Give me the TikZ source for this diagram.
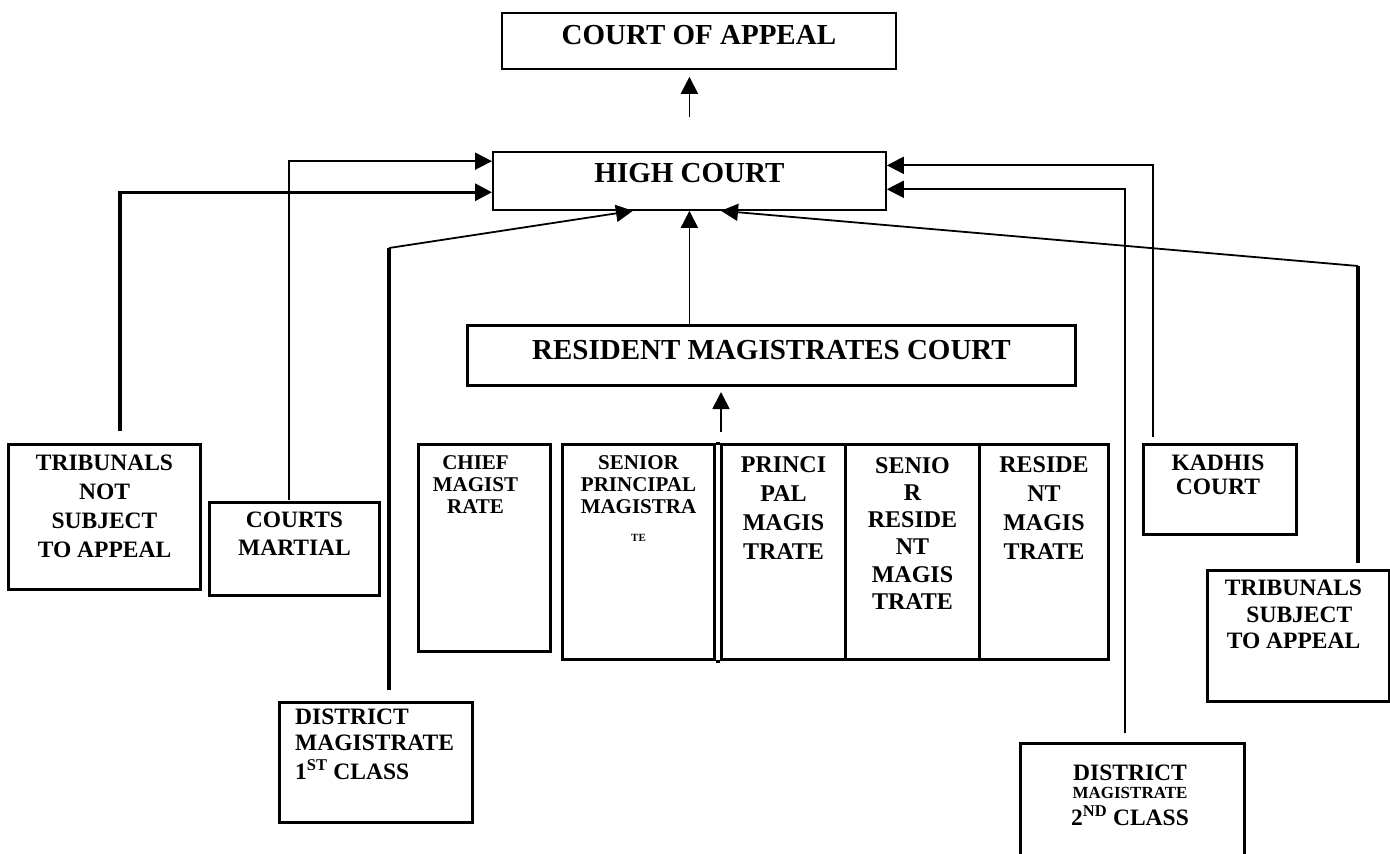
\documentclass[tikz,border=0pt]{standalone}
\usepackage{fontspec}
\setmainfont{Liberation Serif}
\usetikzlibrary{arrows.meta,positioning,calc}

\tikzset{
  box/.style={draw, line width=3pt, inner sep=0pt, anchor=north west},
  topbox/.style={box, line width=1.8pt},
  headtxt/.style={font=\bfseries\fontsize{29}{34}\selectfont, inner sep=0pt},
  txt/.style={font=\bfseries\fontsize{23.5}{29}\selectfont, align=center, inner sep=0pt},
  coltxt/.style={font=\bfseries\fontsize{24}{29}\selectfont, align=center, inner sep=0pt},
  smalltxt/.style={font=\bfseries\fontsize{21}{22}\selectfont, align=center, inner sep=0pt},
  thinline/.style={line width=1.8pt},
  thickline/.style={line width=3.2pt},
  headarrow/.style={-{Triangle[length=17pt,width=17pt]}},
}

\begin{document}
\begin{tikzpicture}[x=1pt,y=-1pt]
  \useasboundingbox (0,0) rectangle (1390,854);

  % top courts
  \node[topbox, minimum width=394pt, minimum height=56pt] (coa) at (501,12) {};
  \node[headtxt, below=13pt of coa.north] (coa-t) {COURT OF APPEAL};
  \node[topbox, minimum width=393pt, minimum height=58pt] (hc) at (492,151) {};
  \node[headtxt, below=12pt of hc.north] (hc-t) {HIGH COURT};
  \node[box, minimum width=608pt, minimum height=60pt] (rmc) at (466,324) {};
  \node[headtxt, below=16pt of rmc.north] (rmc-t) {RESIDENT MAGISTRATES COURT};

  % lower courts
  \node[box, minimum width=192pt, minimum height=145pt] (tnsa) at (7,443) {};
  \node[txt, below=12pt of tnsa.north] (tnsa-t) {TRIBUNALS\\NOT\\SUBJECT\\TO APPEAL};
  \node[box, minimum width=170pt, minimum height=93pt] (cm) at (208,501) {};
  \node[txt, font=\bfseries\fontsize{23.5}{28}\selectfont, below=11pt of cm.north] (cm-t) {COURTS\\MARTIAL};
  \node[box, minimum width=193pt, minimum height=120pt] (dm1) at (278,701) {};
  \node[txt, align=left, font=\bfseries\fontsize{23.5}{26}\selectfont,
        below right=8pt and 17pt of dm1.north west] (dm1-t) {DISTRICT\\MAGISTRATE\\[3pt]1\textsuperscript{ST} CLASS};
  \node[box, minimum width=153pt, minimum height=90pt] (kad) at (1142,443) {};
  \node[txt, font=\bfseries\fontsize{23.5}{23.5}\selectfont, below=12pt of kad.north, xshift=-2pt] (kad-t) {KADHIS\\COURT};
  \node[box, minimum width=182pt, minimum height=131pt] (tsa) at (1206,569) {};
  \node[txt, font=\bfseries\fontsize{23.5}{26.5}\selectfont, below=11pt of tsa.north, xshift=-5pt] (tsa-t) {TRIBUNALS\\\ \ SUBJECT\\TO APPEAL};
  \node[box, draw=none, minimum width=221pt, minimum height=112pt] (dm2) at (1020,743) {};
  \draw[line width=3pt] (dm2.south west) |- (dm2.north east) -- (dm2.south east);
  \node[txt, font=\bfseries\fontsize{23.5}{22}\selectfont, below=22pt of dm2.north, xshift=-2pt] (dm2-t)
       {DISTRICT\\[-4pt]{\fontsize{17}{22}\selectfont MAGISTRATE}\\[5pt]2\textsuperscript{ND} CLASS};

  % magistrates table
  \node[box, minimum width=132pt, minimum height=207pt] (chief) at (417,443) {};
  \node[smalltxt, below=12pt of chief.north, xshift=-9pt] (chief-t) {CHIEF\\MAGIST\\RATE};
  \node[box, minimum width=152pt, minimum height=215pt] (c1) at (561,443) {};
  \node[box, minimum width=124pt, minimum height=215pt] (c2) at (720,443) {};
  \node[box, minimum width=134pt, minimum height=215pt] (c3) at (844,443) {};
  \node[box, minimum width=129pt, minimum height=215pt] (c4) at (978,443) {};
  \draw[line width=3pt] (c1.north east) -- (c2.north west);
  \draw[line width=3pt] (c1.south east) -- (c2.south west);
  \node[smalltxt, below=12pt of c1.north] (c1-t) {SENIOR\\PRINCIPAL\\MAGISTRA\\[6pt]{\fontsize{11}{12}\selectfont TE}};
  \node[coltxt, below=13pt of c2.north] (c2-t) {PRINCI\\PAL\\MAGIS\\TRATE};
  \node[coltxt, font=\bfseries\fontsize{24}{27.3}\selectfont, below=14pt of c3.north] (c3-t) {SENIO\\R\\RESIDE\\NT\\MAGIS\\TRATE};
  \node[coltxt, below=13pt of c4.north] (c4-t) {RESIDE\\NT\\MAGIS\\TRATE};

  % free ends of the connectors
  \coordinate (tnsa-top) at (120,431);
  \coordinate (cm-top) at (289,500);
  \coordinate (dm1-top) at (389,690);
  \coordinate (dm1-bend) at (389,248);
  \coordinate (tbl-top) at (721,432);
  \coordinate (kad-top) at (1153,437);
  \coordinate (dm2-top) at (1125,733);
  \coordinate (tsa-top) at (1358,563);
  \coordinate (tsa-bend) at (1358,266);

  % appeals
  \draw[thinline, headarrow, shorten <=34pt, shorten >=7pt] (hc.north) -- (hc.north |- coa.south);
  \draw[thinline, headarrow] (hc.south |- rmc.north) -- (hc.south);
  \draw[thinline, headarrow, shorten >=5pt] (tbl-top) -- (tbl-top |- rmc.south);
  \draw[thickline, headarrow] (tnsa-top) |- ($(hc.north west)!0.69!(hc.south west)$);
  \draw[thinline, headarrow] (cm-top) |- ($(hc.north west)!0.17!(hc.south west)$);
  \draw[thickline] (dm1-top) -- (dm1-bend);
  \draw[thinline, headarrow] (dm1-bend) -- ($(hc.south west)!0.357!(hc.south east)$);
  \draw[thinline, headarrow] (kad-top) |- ($(hc.north east)!0.24!(hc.south east)$);
  \draw[thinline, headarrow] (dm2-top) |- ($(hc.north east)!0.64!(hc.south east)$);
  \draw[thickline] (tsa-top) -- (tsa-bend);
  \draw[thinline, headarrow] (tsa-bend) -- ($(hc.south west)!0.58!(hc.south east)$);
\end{tikzpicture}
\end{document}
